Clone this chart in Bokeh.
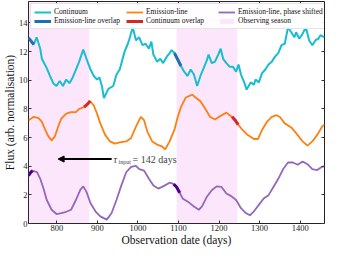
from bokeh.plotting import figure
from bokeh.models import (Range1d, LinearAxis, Legend, LegendItem, Arrow, NormalHead,
                          Label, FixedTicker)
from bokeh.embed import file_html
from bokeh.resources import INLINE

FONT = "Liberation Serif"

# ---- data ----
season_start = [730, 1095]
season_end = [880, 1245]

cont_days = [730, 736, 743, 750, 759, 763, 775, 783, 791, 799, 807, 815, 823, 831, 839, 847,
             855, 865, 873, 883, 891, 899, 905, 911, 916, 927, 939, 947, 955, 967, 975, 979,
             987, 995, 1003, 1011, 1019, 1027, 1033, 1038, 1047, 1055, 1062, 1071, 1078, 1083,
             1090, 1106, 1114, 1122, 1130, 1138, 1146, 1154, 1162, 1170, 1174, 1182, 1190, 1198,
             1204, 1210, 1218, 1226, 1234, 1242, 1248, 1254, 1262, 1268, 1278, 1286, 1290, 1298,
             1306, 1314, 1322, 1330, 1338, 1346, 1354, 1362, 1370, 1378, 1386, 1390, 1398, 1406,
             1414, 1422, 1430, 1438, 1445, 1450, 1460]
cont_flux = [12.95, 12.75, 12.5, 13.0, 12.2, 11.5, 10.85, 10.3, 9.8, 9.6, 9.95, 9.6, 10.05, 9.8, 10.2, 10.75,
             11.3, 12.15, 11.5, 10.75, 10.3, 10.05, 10.2, 9.6, 8.75, 9.4, 9.6, 10.4, 10.75, 12.0, 12.55, 12.9,
             13.7, 12.8, 13.0, 12.45, 12.55, 12.2, 12.7, 11.8, 11.3, 11.5, 11.2, 11.65, 11.9, 12.1,
             11.9, 11.0, 10.6, 10.3, 10.75, 10.4, 9.6, 10.3, 10.85, 11.4, 11.8, 11.2, 11.3, 11.8,
             12.2, 11.5, 11.2, 10.95, 10.95, 10.6, 11.1, 10.4, 9.85, 9.35, 9.85, 9.7, 10.05, 9.85,
             10.5, 10.75, 11.1, 11.3, 11.65, 11.9, 12.45, 12.55, 13.7, 13.35, 13.0, 13.35, 12.9, 13.25,
             13.7, 12.8, 12.45, 12.8, 12.9, 13.15, 13.0]
cont_ov_days = [[730, 736, 743], [1090, 1098, 1106]]
cont_ov_flux = [[12.95, 12.75, 12.5], [11.9, 11.45, 11.0]]

line_days = [730, 743, 755, 763, 771, 779, 787, 795, 803, 811, 823, 835, 847, 855, 867, 876,
             882, 891, 899, 907, 919, 931, 943, 955, 971, 983, 995, 1007, 1015, 1023, 1035, 1047,
             1059, 1067, 1078, 1090, 1098, 1106, 1118, 1134, 1142, 1154, 1166, 1178, 1190, 1202,
             1218, 1226, 1232, 1240, 1247, 1258, 1270, 1286, 1296, 1306, 1318, 1330, 1342, 1350,
             1362, 1378, 1390, 1406, 1418, 1430, 1442, 1454, 1460]
line_flux = [7.2, 7.45, 7.35, 7.1, 6.55, 6.08, 5.8, 6.08, 6.76, 7.33, 7.67, 7.78, 7.78, 8.0, 8.12, 8.35,
             8.55, 8.24, 7.67, 6.99, 6.19, 5.73, 5.58, 5.67, 5.73, 5.97, 6.76, 7.44, 7.21, 6.42, 5.73, 5.51,
             5.39, 5.17, 5.73, 6.55, 7.44, 8.12, 8.8, 9.0, 8.8, 8.53, 8.01, 7.44, 7.26, 7.49,
             7.74, 7.56, 7.45, 7.2, 6.9, 6.53, 6.19, 5.9, 5.9, 6.53, 7.1, 7.44, 7.56, 7.44,
             6.99, 6.71, 6.31, 5.73, 5.44, 5.73, 6.19, 6.76, 6.9]
line_ov_days = [[867, 876, 882], [1232, 1240, 1247]]
line_ov_flux = [[8.12, 8.35, 8.55], [7.45, 7.2, 6.9]]

shift_days = [730, 739, 751, 759, 767, 775, 787, 799, 811, 823, 835, 847, 858, 865, 873, 883,
              895, 907, 923, 935, 947, 959, 971, 983, 995, 1003, 1015, 1027, 1038, 1050, 1062, 1078,
              1086, 1095, 1102, 1110, 1126, 1138, 1150, 1158, 1170, 1182, 1194, 1206, 1218, 1230,
              1242, 1254, 1266, 1276, 1286, 1298, 1310, 1322, 1334, 1346, 1358, 1370, 1382, 1394,
              1406, 1418, 1430, 1442, 1454, 1460]
shift_flux = [3.45, 3.69, 3.58, 3.12, 2.44, 1.64, 0.96, 0.66, 0.73, 0.82, 0.96, 1.64, 2.37, 2.59, 2.21, 1.41,
              0.85, 0.5, 0.27, 0.73, 1.64, 2.66, 3.58, 3.96, 4.03, 3.8, 3.69, 3.12, 2.66, 2.44, 2.59, 2.85,
              2.78, 2.6, 2.2, 1.75, 1.46, 1.19, 0.96, 1.19, 1.87, 2.32, 2.59, 2.55, 2.1, 1.91,
              1.64, 1.07, 0.73, 0.57, 0.85, 1.3, 1.75, 1.98, 2.55, 3.12, 3.8, 4.26, 4.26, 4.1,
              4.33, 4.14, 3.8, 3.73, 3.96, 4.0]
shift_ov_days = [[730, 735, 740], [1088, 1095, 1103]]
shift_ov_flux = [[3.35, 3.55, 3.69], [2.75, 2.55, 2.15]]

x_ticks = [800, 900, 1000, 1100, 1200, 1300, 1400]
y_ticks = [0, 2, 4, 6, 8, 10, 12, 14]
x_lo, x_hi = 730, 1460
y_lo, y_hi = 0, 15.5

arrow_from, arrow_to, arrow_y = 935, 803, 4.5
lag_text = "= 142 days"

# ---- figure ----
p = figure(width=328, height=248, x_range=Range1d(x_lo, x_hi), y_range=Range1d(y_lo, y_hi),
           output_backend="svg", toolbar_location=None,
           min_border_left=0, min_border_right=4, min_border_top=1, min_border_bottom=1)
p.grid.visible = False
p.outline_line_color = "#222222"
p.outline_line_alpha = 1
p.outline_line_width = 1
p.background_fill_color = "white"

xax = p.below[0]
yax = p.left[0]

season = p.quad(left=season_start, right=season_end, bottom=y_lo, top=y_hi,
                fill_color="#ee82ee", fill_alpha=0.2, line_color=None)
cont = p.line(cont_days, cont_flux, color="#17becf", line_width=2)
cont_ov = p.multi_line(cont_ov_days, cont_ov_flux, color="#1f6fb0", line_width=3)
el = p.line(line_days, line_flux, color="#ff7f0e", line_width=1.8)
el_ov = p.multi_line(line_ov_days, line_ov_flux, color="#d62728", line_width=3)
sh = p.line(shift_days, shift_flux, color="#9467bd", line_width=1.8)
sh_ov = p.multi_line(shift_ov_days, shift_ov_flux, color="#4b0082", line_width=3)

# axes
xax.ticker = FixedTicker(ticks=x_ticks)
yax.ticker = FixedTicker(ticks=y_ticks)
xax.axis_label = "Observation date (days)"
yax.axis_label = "Flux (arb. normalisation)"
top_ax = LinearAxis(ticker=FixedTicker(ticks=x_ticks),
                    major_label_overrides={t: "" for t in x_ticks})
right_ax = LinearAxis(ticker=FixedTicker(ticks=y_ticks),
                      major_label_overrides={t: "" for t in y_ticks})
p.add_layout(top_ax, "above")
p.add_layout(right_ax, "right")
for ax in [xax, yax, top_ax, right_ax]:
    ax.major_tick_in = 3
    ax.major_tick_out = 0
    ax.minor_tick_line_color = None
    ax.axis_line_color = None
    ax.major_tick_line_color = "#333333"
    ax.major_label_text_font = FONT
    ax.major_label_text_font_size = "8.5px"
    ax.major_label_text_color = "#222222"
    ax.axis_label_text_font = FONT
    ax.axis_label_text_font_size = "11.5px"
    ax.axis_label_text_font_style = "normal"
    ax.axis_label_text_color = "#111111"
    ax.major_label_standoff = 1
    ax.axis_label_standoff = 0
for ax in [top_ax, right_ax]:
    ax.major_label_standoff = 0

# legend (column-major: 3 columns of 2)
legend = Legend(items=[
    LegendItem(label="Continuum", renderers=[cont]),
    LegendItem(label="Emission-line overlap", renderers=[cont_ov]),
    LegendItem(label="Emission-line", renderers=[el]),
    LegendItem(label="Continuum overlap", renderers=[el_ov]),
    LegendItem(label="Emission-line, phase shifted", renderers=[sh]),
    LegendItem(label="Observing season", renderers=[season]),
], location="top_left", ncols=3)
legend.label_text_font = FONT
legend.label_text_font_size = "7.5px"
legend.label_text_color = "#111111"
legend.label_height = 7
legend.label_width = 72
legend.glyph_height = 6
legend.glyph_width = 17
legend.label_standoff = 3
legend.spacing = 0
legend.padding = 3
legend.margin = 2
legend.border_line_color = "#cccccc"
legend.background_fill_alpha = 0.9
p.add_layout(legend)

# annotation
p.add_layout(Arrow(end=NormalHead(size=6, fill_color="black", line_color="black"),
                   x_start=arrow_from, y_start=arrow_y, x_end=arrow_to, y_end=arrow_y,
                   line_width=2, line_color="black"))
p.add_layout(Label(x=arrow_from, y=arrow_y, text="τ", text_font=FONT, text_font_style="italic",
                   text_font_size="10px", text_baseline="middle", x_offset=2, y_offset=0))
p.add_layout(Label(x=arrow_from, y=arrow_y, text="input", text_font=FONT,
                   text_font_size="6px", text_baseline="middle", x_offset=7, y_offset=-3))
p.add_layout(Label(x=arrow_from, y=arrow_y, text=lag_text, text_font=FONT,
                   text_font_size="10px", text_baseline="middle", x_offset=21, y_offset=0))

open("out.html", "w").write(file_html(p, INLINE))
